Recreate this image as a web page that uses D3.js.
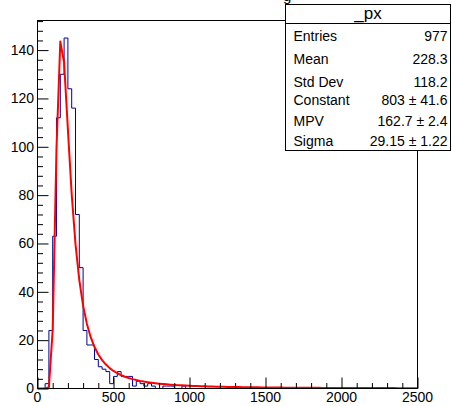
<!DOCTYPE html>
<html>
<head>
<meta charset="utf-8">
<script src="https://cdn.jsdelivr.net/npm/d3@7"></script>
<style>
  body { margin: 0; background: white; }
  svg text { font-family: "Liberation Sans", Arial, sans-serif; }
</style>
</head>
<body>
<div id="chart"></div>
<script>
// Histogram binning (100 bins from 0 to 2500)
const nBins = 100;
const xMin = 0;
const xMax = 2500;

// Bin contents
const counts = [
  0, 0, 2, 24, 63, 112, 130, 145, 124, 116,
  72, 50, 24, 18, 18, 12, 9, 8, 7, 2,
  5, 7, 5, 5, 5, 1, 3, 2, 1, 2,
  1, 0, 0, 1, 1, 1, 0, 0, 1, 0
].concat(new Array(60).fill(0));

// Landau fit parameters
const fitConstant = 803;
const fitMPV = 162.7;
const fitSigma = 29.15;

// Axis ticks
const xTicks = [0, 500, 1000, 1500, 2000, 2500];
const yTicks = [0, 20, 40, 60, 80, 100, 120, 140];

// Stats box lines
const statsTitle = "_px";
const statsNames  = ["Entries", "Mean", "Std Dev", "Constant", "MPV", "Sigma"];
const statsValues = ["977", "228.3", "118.2", "803 \u00b1 41.6", "162.7 \u00b1 2.4", "29.15 \u00b1 1.22"];

const config = {
  width  : 452,
  height : 406,
  left   : 37.5,
  right  : 417.5,
  top    : 20.5,
  bottom : 388.5,
};

const svg = d3.select("#chart")
  .append("svg")
    .attr("width", config.width)
    .attr("height", config.height);

const x = d3.scaleLinear().domain([xMin, xMax]).range([config.left, config.right]);
const yMaxVal = d3.max(counts) * 1.05;
const y = d3.scaleLinear().domain([0, yMaxVal]).range([config.bottom, config.top]);

// title, mostly hidden behind the stats box (cut off at the top like the original)
svg.append("text")
  .attr("x", 283).attr("y", 1)
  .style("font-size", "15px")
  .text("g");

// clip for the plot area
svg.append("clipPath").attr("id", "frameClip")
  .append("rect")
    .attr("x", config.left).attr("y", config.top)
    .attr("width", config.right - config.left)
    .attr("height", config.bottom - config.top);

// histogram as a step line
const binW = (xMax - xMin) / nBins;
const pts = [[xMin, 0]];
counts.forEach(function (c, i) {
  pts.push([xMin + i * binW, c]);
  pts.push([xMin + (i + 1) * binW, c]);
});
pts.push([xMax, 0]);

svg.append("path")
  .datum(pts)
  .attr("clip-path", "url(#frameClip)")
  .attr("fill", "none")
  .attr("stroke", "#000099")
  .attr("stroke-width", 1)
  .attr("d", d3.line().x(d => x(d[0])).y(d => y(d[1])));

// Landau density (numerical integral), same shape as ROOT's TMath::Landau
function landau(l) {
  if (l < -3.6) return 0;
  const T = 40, h = 0.001, n = Math.round(T / h);
  let s = 0;
  for (let i = 0; i <= n; i++) {
    const t = i * h;
    const f = t === 0 ? 0 : Math.exp(-t * Math.log(t) - l * t) * Math.sin(Math.PI * t);
    const w = (i === 0 || i === n) ? 1 : (i % 2 ? 4 : 2);
    s += w * f;
  }
  return Math.max(0, s * h / 3 / Math.PI);
}

// ROOT draws the function with 100 steps
const fitPts = d3.range(0, 101).map(function (i) {
  const xv = xMin + i * (xMax - xMin) / 100;
  return [xv, fitConstant * landau((xv - fitMPV) / fitSigma)];
});

svg.append("path")
  .datum(fitPts)
  .attr("clip-path", "url(#frameClip)")
  .attr("fill", "none")
  .attr("stroke", "#ff0000")
  .attr("stroke-width", 2)
  .attr("stroke-linejoin", "round")
  .attr("d", d3.line().x(d => x(d[0])).y(d => y(d[1])));

// frame
svg.append("rect")
  .attr("x", config.left).attr("y", config.top)
  .attr("width", config.right - config.left)
  .attr("height", config.bottom - config.top)
  .attr("fill", "none")
  .attr("stroke", "black")
  .attr("stroke-width", 1);

// x axis ticks (inside, pointing up)
const xAxis = d3.axisBottom(x)
  .tickValues(d3.range(0, 2501, 100))
  .tickSize(0)
  .tickFormat("");
const gx = svg.append("g").attr("transform", "translate(0," + config.bottom + ")").call(xAxis);
gx.select(".domain").remove();
gx.selectAll(".tick line")
  .attr("y2", d => (d % 500 === 0 ? -11 : -5.5))
  .attr("stroke", "black");

svg.selectAll(".xlab")
  .data(xTicks)
  .enter()
  .append("text")
    .attr("x", d => x(d))
    .attr("y", 402)
    .attr("text-anchor", "middle")
    .style("font-size", "14px")
    .text(d => d);

// y axis ticks (inside, pointing right)
const yAxis = d3.axisLeft(y)
  .tickValues(d3.range(0, 153, 4))
  .tickSize(0)
  .tickFormat("");
const gy = svg.append("g").attr("transform", "translate(" + config.left + ",0)").call(yAxis);
gy.select(".domain").remove();
gy.selectAll(".tick line")
  .attr("x2", d => (d % 20 === 0 ? 11 : 5.5))
  .attr("stroke", "black");

svg.selectAll(".ylab")
  .data(yTicks)
  .enter()
  .append("text")
    .attr("x", 34)
    .attr("y", d => y(d))
    .attr("dy", "0.35em")
    .attr("text-anchor", "end")
    .style("font-size", "14px")
    .text(d => d);

// stats box
const box = { x: 285.5, y: 4.5, w: 165, h: 146, head: 19 };
svg.append("rect")
  .attr("x", box.x).attr("y", box.y)
  .attr("width", box.w).attr("height", box.h)
  .attr("fill", "white")
  .attr("stroke", "black");
svg.append("line")
  .attr("x1", box.x).attr("x2", box.x + box.w)
  .attr("y1", box.y + box.head).attr("y2", box.y + box.head)
  .attr("stroke", "black");
svg.append("text")
  .attr("x", box.x + box.w / 2)
  .attr("y", box.y + 14)
  .attr("text-anchor", "middle")
  .style("font-size", "17px")
  .text(statsTitle);

const rowY = [36, 59, 82, 100, 121, 141];
statsNames.forEach(function (name, i) {
  svg.append("text")
    .attr("x", box.x + 8)
    .attr("y", rowY[i])
    .attr("dy", "0.35em")
    .style("font-size", "14px")
    .text(name);
  svg.append("text")
    .attr("x", box.x + box.w - 3)
    .attr("y", rowY[i])
    .attr("dy", "0.35em")
    .attr("text-anchor", "end")
    .style("font-size", "14px")
    .text(statsValues[i]);
});
</script>
</body>
</html>
